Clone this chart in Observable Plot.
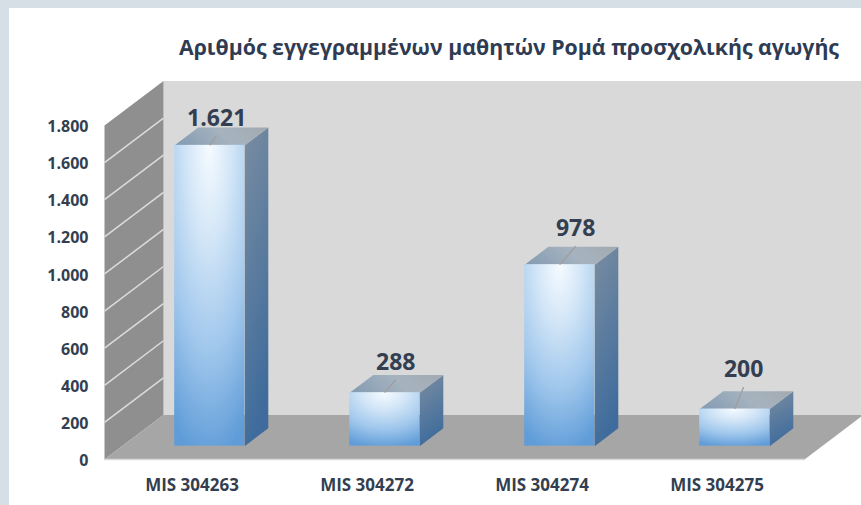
<!DOCTYPE html>
<html lang="el">
<head>
<meta charset="utf-8">
<script src="https://cdn.jsdelivr.net/npm/d3@7"></script>
<script src="https://cdn.jsdelivr.net/npm/@observablehq/plot@0.6"></script>
<style>
  html, body { margin: 0; padding: 0; width: 861px; height: 505px; overflow: hidden; background: #d6dee6; }
  #card { position: absolute; left: 9px; top: 8px; width: 852px; height: 497px; background: #fff; }
  #title { position: absolute; left: 170px; top: 24px; width: 660px; margin: 0; text-align: center; white-space: nowrap;
           font: 700 21.3px "Open Sans", "Noto Sans", sans-serif; line-height: 30px; color: #2f3b52; }
  #chart { position: absolute; left: 0; top: 62px; }
  #chart svg { display: block; }
</style>
</head>
<body>
<div id="card">
  <h1 id="title">Αριθμός εγγεγραμμένων μαθητών Ρομά προσχολικής αγωγής</h1>
  <div id="chart"></div>
</div>
<script>
// Data
const categories = ["MIS 304263", "MIS 304272", "MIS 304274", "MIS 304275"];
const values = [1621, 288, 978, 200];
const tickValues = [0, 200, 400, 600, 800, 1000, 1200, 1400, 1600, 1800];
// Leader lines of the data labels, in data units (category slots, value units)
const leaderRun = [0.04, 0.063, 0.091, 0.051];
const leaderRise = [54, 70, 100, 119];

// Oblique projection: depth 0 is the front of the floor, depth 1 the back wall
const depthX = 59 / 175;
const depthY = 240;
const project = (x, v, d) => ({x: x + d * depthX, y: v + d * depthY});
const barHalf = 0.2, barFront = 0.3, barBack = 0.7;
const xMin = -0.5, xMax = 3.5, yMax = 1800;

const poly = (id, pts) => pts.map(([x, v, d]) => ({id, ...project(x, v, d)}));
const walls = [
  {fill: "#d9d9d9", pts: [[xMin, 0, 1], [xMax, 0, 1], [xMax, yMax, 1], [xMin, yMax, 1]]},
  {fill: "#8f8f8f", pts: [[xMin, 0, 0], [xMin, yMax, 0], [xMin, yMax, 1], [xMin, 0, 1]]},
  {fill: "#a6a6a6", pts: [[xMin, 0, 0], [xMax, 0, 0], [xMax, 0, 1], [xMin, 0, 1]]}
];
const sideFaces = values.flatMap((v, i) => poly(i, [
  [i + barHalf, 0, barFront], [i + barHalf, 0, barBack], [i + barHalf, v, barBack], [i + barHalf, v, barFront]]));
const topFaces = values.flatMap((v, i) => poly(i, [
  [i - barHalf, v, barFront], [i + barHalf, v, barFront], [i + barHalf, v, barBack], [i - barHalf, v, barBack]]));
const bars = values.map((v, i) => ({i, v}));
const gridRows = tickValues.filter(t => t > 0 && t < yMax).map(t => ({a: project(xMin, t, 0), b: project(xMin, t, 1)}));

const fmt = d3.formatLocale({decimal: ",", thousands: ".", grouping: [3], currency: ["", "€"]}).format(",d");

function gradients() {
  const defs = d3.create("svg:defs");
  const front = defs.append("radialGradient").attr("id", "barFront")
    .attr("cx", 0.5).attr("cy", 0).attr("r", 1.05);
  [[0, "#f6fbff"], [0.3, "#d3e6f7"], [0.65, "#a0c7ec"], [1, "#5f9cd8"]].forEach(([o, c]) =>
    front.append("stop").attr("offset", o).attr("stop-color", c));
  const side = defs.append("linearGradient").attr("id", "barSide").attr("x1", 0).attr("y1", 0).attr("x2", 0.25).attr("y2", 1);
  [[0, "#7a8da1"], [1, "#3f6c9c"]].forEach(([o, c]) =>
    side.append("stop").attr("offset", o).attr("stop-color", c));
  const top = defs.append("linearGradient").attr("id", "barTop").attr("x1", 0).attr("y1", 0.6).attr("x2", 1).attr("y2", 0.4);
  [[0, "#869db3"], [0.55, "#a6b3bf"], [1, "#a3abb2"]].forEach(([o, c]) =>
    top.append("stop").attr("offset", o).attr("stop-color", c));
  return defs.node();
}

const textFont = '"Open Sans", "Noto Sans", sans-serif';
const chart = Plot.plot({
  width: 852,
  height: 435,
  marginLeft: 95,
  marginRight: 57,
  marginTop: 55,
  marginBottom: 46,
  style: {background: "transparent", fontFamily: textFont},
  x: {domain: [xMin, xMax]},
  y: {domain: [0, yMax]},
  marks: [
    gradients,
    ...walls.map(w => Plot.line(poly(0, w.pts), {x: "x", y: "y", fill: w.fill, stroke: "none"})),
    Plot.link(gridRows, {
      x1: d => d.a.x, y1: d => d.a.y, x2: d => d.b.x, y2: d => d.b.y,
      stroke: "#dcdcdc", strokeWidth: 1.5
    }),
    Plot.link([0], {
      x1: xMin, x2: xMax, y1: 0, y2: 0, stroke: "#d9d9d9", strokeWidth: 1.5
    }),
    Plot.line(sideFaces, {x: "x", y: "y", z: "id", fill: "url(#barSide)", stroke: "none"}),
    Plot.line(topFaces, {x: "x", y: "y", z: "id", fill: "url(#barTop)", stroke: "none"}),
    Plot.rect(bars, {
      x1: d => project(d.i - barHalf, 0, barFront).x,
      x2: d => project(d.i + barHalf, 0, barFront).x,
      y1: d => project(0, 0, barFront).y,
      y2: d => project(0, d.v, barFront).y,
      fill: "url(#barFront)"
    }),
    Plot.link(bars, {
      x1: d => project(d.i, d.v, barFront).x,
      y1: d => project(d.i, d.v, barFront).y,
      x2: d => project(d.i, d.v, barFront).x + leaderRun[d.i],
      y2: d => project(d.i, d.v, barFront).y + leaderRise[d.i],
      stroke: "#a39c9c", strokeWidth: 1.3
    }),
    Plot.text(bars, {
      x: d => project(d.i, d.v, barFront).x + leaderRun[d.i],
      y: d => project(d.i, d.v, barFront).y + leaderRise[d.i],
      text: d => fmt(d.v),
      dy: -17,
      fontSize: 23,
      fontWeight: 700,
      fill: "#333f50"
    }),
    Plot.axisY({
      ticks: tickValues, tickFormat: fmt, tickSize: 0, tickPadding: 16, dy: 1.5, label: null,
      fontSize: 16, fontWeight: 700, fill: "#333f50"
    }),
    Plot.axisX({
      ticks: categories.map((c, i) => i), tickFormat: i => categories[i], tickSize: 0, tickPadding: 19, label: null,
      fontSize: 17, fontWeight: 700, fill: "#333f50"
    })
  ]
});
document.getElementById("chart").append(chart);
</script>
</body>
</html>
